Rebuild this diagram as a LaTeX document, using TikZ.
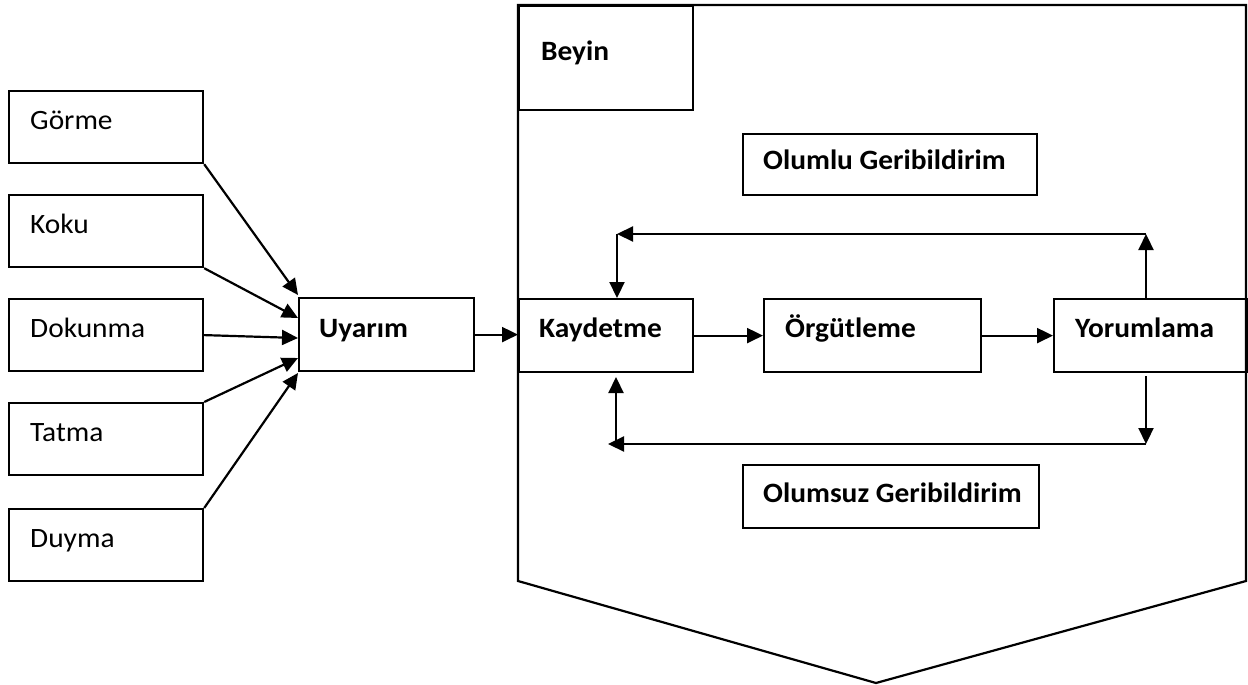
\documentclass[tikz,border=0pt]{standalone}
\usepackage{fontspec}
\setmainfont{Carlito}[FakeStretch=1.05]
\usetikzlibrary{arrows.meta}
\begin{document}
\begin{tikzpicture}[x=1pt,y=-1pt,
  box/.style={draw, line width=2.2pt, anchor=north west, inner sep=0pt},
  sense/.style={box, minimum width=194pt, minimum height=72pt},
  stage/.style={box, minimum height=73pt},
  lbl/.style={anchor=base west, inner sep=0pt, font=\fontsize{28}{32}\selectfont},
  blbl/.style={lbl, font=\fontsize{28}{32}\selectfont\bfseries},
  arr/.style={line width=2.2pt, -{Triangle[length=16pt,width=15pt]}},
  ln/.style={line width=2.2pt}]
\useasboundingbox (0,0) rectangle (1248,685);

% brain outline (pentagon pointing down)
\draw[ln, line join=miter] (518,5) -- (1246,5) -- (1246,581) -- (876,683) -- (518,581) -- cycle;
\node[box, minimum width=174pt, minimum height=104pt] (beyin) at (518,5) {};
\node[blbl] (beyin-t) at (541,61) {Beyin};

% sense organs
\node[sense] (gorme) at (8,90) {};
\node[sense] (koku) at (8,194) {};
\node[sense] (dokunma) at (8,298) {};
\node[sense] (tatma) at (8,402) {};
\node[sense] (duyma) at (8,508) {};
\node[lbl] (gorme-t) at (30,129) {Görme};
\node[lbl] (koku-t) at (30,233) {Koku};
\node[lbl] (dokunma-t) at (30,337) {Dokunma};
\node[lbl] (tatma-t) at (30,441) {Tatma};
\node[lbl] (duyma-t) at (30,547) {Duyma};

% stimulus and processing stages
\node[stage, minimum width=175pt] (uyarim) at (298,297) {};
\node[blbl] (uyarim-t) at (319,337) {Uyarım};
\node[stage, minimum width=174pt] (kayd) at (518,298) {};
\node[blbl] (kayd-t) at (539,337) {Kaydetme};
\node[stage, minimum width=217pt] (orgut) at (763,298) {};
\node[blbl] (orgut-t) at (785,337) {Örgütleme};
\node[stage, minimum width=193pt] (yorum) at (1053,298) {};
\node[blbl] (yorum-t) at (1075,337) {Yorumlama};

% feedback labels
\node[box, minimum width=294pt, minimum height=61pt] (olumlu) at (742,133) {};
\node[blbl] (olumlu-t) at (763,169) {Olumlu Geribildirim};
\node[box, minimum width=296pt, minimum height=63pt] (olumsuz) at (742,464) {};
\node[blbl] (olumsuz-t) at (763,502) {Olumsuz Geribildirim};

% inputs converging on the stimulus box
\coordinate (in1) at (298,295);
\coordinate (in2) at (298,318);
\coordinate (in3) at (298,338);
\coordinate (in4) at (298,358);
\coordinate (in5) at (298,373);
\draw[arr] (gorme.south east) -- (in1);
\draw[arr] (koku.south east) -- (in2);
\draw[arr] (dokunma.east) -- (in3);
\draw[arr] (tatma.north east) -- (in4);
\draw[arr] (duyma.north east) -- (in5);

% main flow
\draw[arr] (uyarim.east) -- (kayd.west |- uyarim.east);
\draw[arr] (kayd.east) -- (orgut.west |- kayd.east);
\draw[arr] (orgut.east) -- (yorum.west |- orgut.east);

% positive feedback loop (top)
\coordinate (tr) at (1146,234);
\coordinate (tl) at (617,234);
\draw[arr] (tr |- yorum.north) -- (tr);
\draw[arr] (tr) -- (tl);
\draw[arr] (tl) -- (tl |- kayd.north);

% negative feedback loop (bottom)
\coordinate (br) at (1146,444);
\coordinate (bl) at (608,444);
\coordinate (bv) at (616,444);
\coordinate (yb) at (1146,376);
\coordinate (kb) at (616,377);
\draw[arr] (yb) -- (br);
\draw[arr] (br) -- (bl);
\draw[arr] (bv) -- (kb);
\end{tikzpicture}
\end{document}
